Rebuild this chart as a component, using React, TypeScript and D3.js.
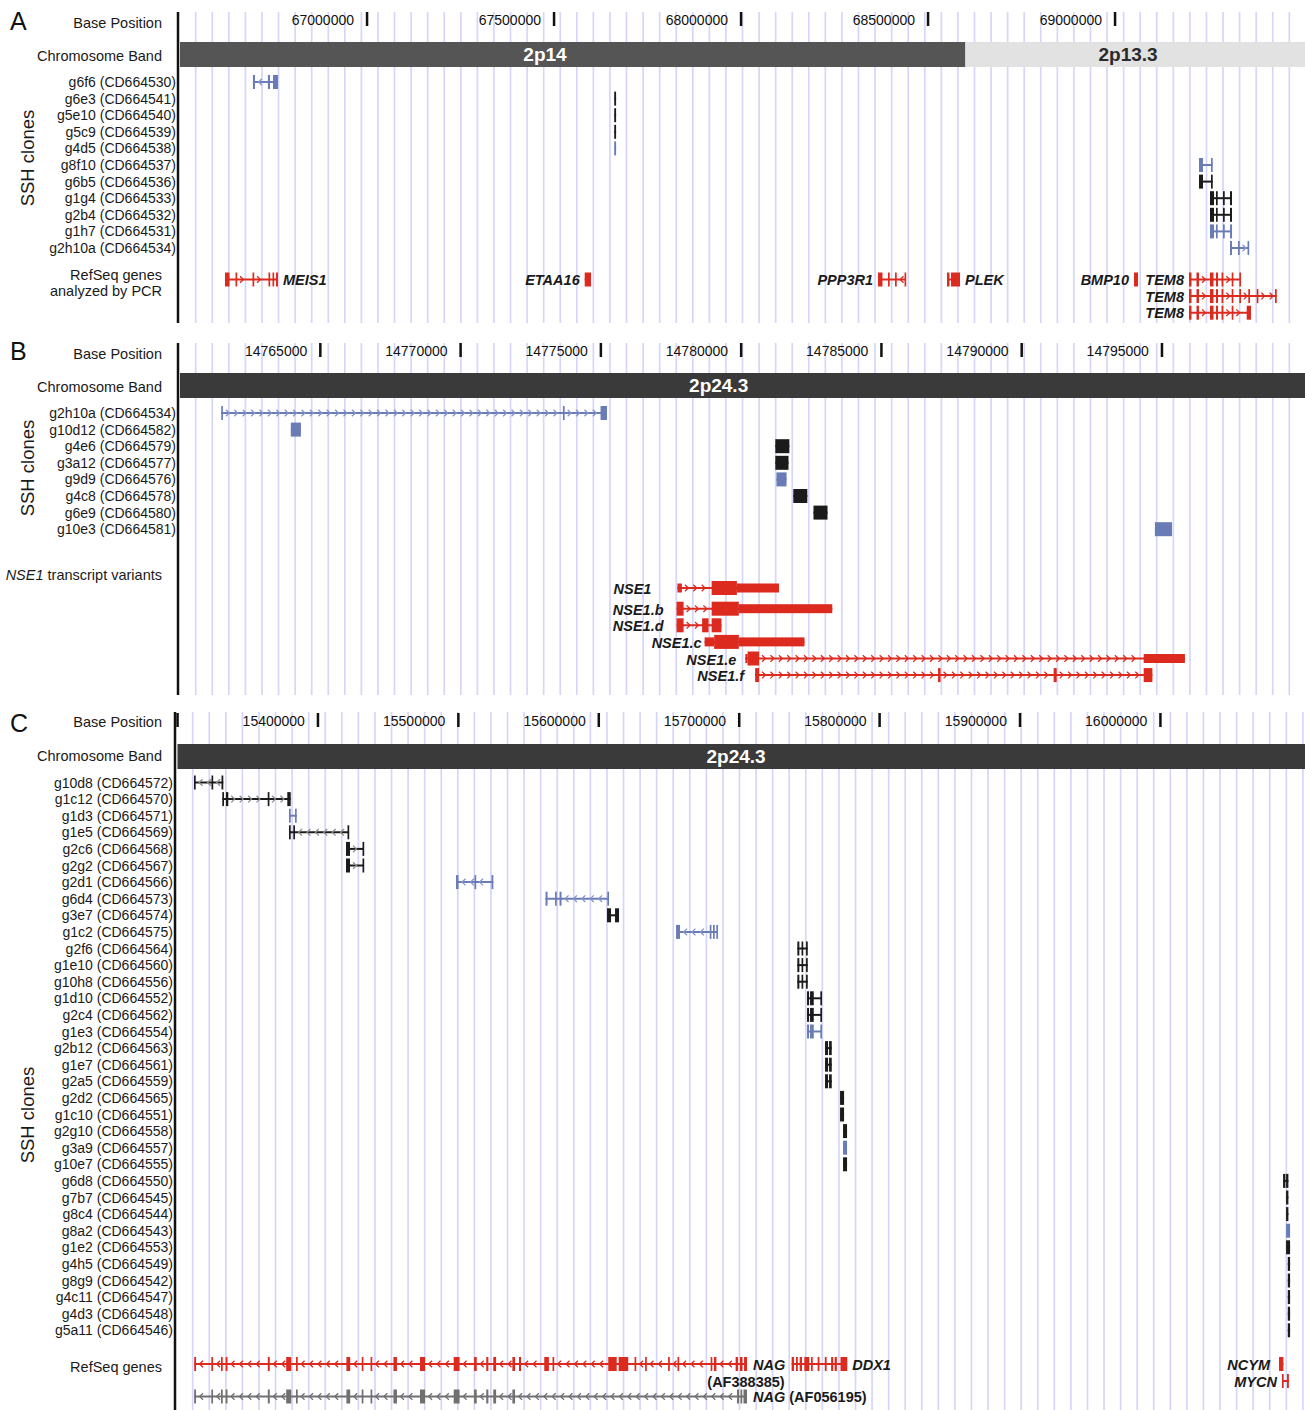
import React from "react";
import * as d3 from "d3";

type Iv = [number, number];

// ================= Panel A =================
const A_TICKS = [67000000, 67500000, 68000000, 68500000, 69000000];
const A_BAND_NAMES = ["2p14", "2p13.3"];
const A_BAND_STARTS = [66500000, 68600000];
const A_BAND_ENDS = [68600000, 69508000];
const A_BAND_LABEL_AT = [67476000, 69035000];
const A_CLONE_NAMES = ["g6f6", "g6e3", "g5e10", "g5c9", "g4d5", "g8f10", "g6b5", "g1g4", "g2b4", "g1h7", "g2h10a"];
const A_CLONE_ACC = ["CD664530", "CD664541", "CD664540", "CD664539", "CD664538", "CD664537", "CD664536", "CD664533", "CD664532", "CD664531", "CD664534"];
const A_CLONE_TYPE = ["b", "k", "k", "k", "b", "b", "k", "k", "k", "b", "b"];
const A_CLONE_STRAND = ["-", "", "", "", "", "", "", "+", "+", "+", "+"];
const A_TEM_CLONE: Iv[] = [[69254000, 69264700], [69270000, 69274000], [69288800, 69292800], [69307500, 69312800]];
const A_TINY: Iv[] = [[67661000, 67666000]];
const A_F10: Iv[] = [[69224600, 69235300], [69256700, 69260700]];
const A_CLONE_EXONS: Iv[][] = [
  [[66695000, 66700500], [66735000, 66740600], [66748700, 66762000]],
  A_TINY, A_TINY, A_TINY, A_TINY,
  A_F10, A_F10,
  A_TEM_CLONE, A_TEM_CLONE, A_TEM_CLONE,
  [[69307500, 69312800], [69328900, 69332900], [69354300, 69358300]],
];
const A_GENE_NAMES = ["MEIS1", "ETAA16", "PPP3R1", "PLEK", "BMP10", "TEM8", "TEM8", "TEM8"];
const A_GENE_ROW = [0, 0, 0, 0, 0, 0, 1, 2];
const A_GENE_STRAND = ["+", "", "-", "+", "", "+", "+", "+"];
const A_GENE_LABEL_SIDE = ["right", "left", "left", "right", "left", "left", "left", "left"];
const TEM8_CORE: Iv[] = [[69197900, 69204500], [69217900, 69224600], [69254000, 69263400], [69270100, 69275400], [69284800, 69289600], [69312000, 69316300]];
const A_GENE_EXONS: Iv[][] = [
  [[66620300, 66632400], [66648400, 66652400], [66693900, 66697900], [66736600, 66740600], [66747300, 66751300], [66756700, 66762000]],
  [[67582100, 67598900]],
  [[68366300, 68378300], [68393000, 68397100], [68411800, 68415800], [68437200, 68441200]],
  [[68550800, 68557500], [68561500, 68585600]],
  [[69050800, 69061500]],
  [...TEM8_CORE, [69332400, 69336100]],
  [...TEM8_CORE, [69332400, 69336100], [69356400, 69361000], [69378900, 69383200], [69427800, 69432400]],
  [...TEM8_CORE, [69352100, 69363600]],
];

// ================= Panel B =================
const B_TICKS = [14765000, 14770000, 14775000, 14780000, 14785000, 14790000, 14795000];
const B_BAND_NAMES = ["2p24.3"];
const B_BAND_STARTS = [14760000];
const B_BAND_ENDS = [14800100];
const B_BAND_LABEL_AT = [14779200];
const B_CLONE_NAMES = ["g2h10a", "g10d12", "g4e6", "g3a12", "g9d9", "g4c8", "g6e9", "g10e3"];
const B_CLONE_ACC = ["CD664534", "CD664582", "CD664579", "CD664577", "CD664576", "CD664578", "CD664580", "CD664581"];
const B_CLONE_TYPE = ["b", "b", "k", "k", "b", "k", "k", "b"];
const B_CLONE_STRAND = ["+", "", "", "", "", "", "", ""];
const B_CLONE_EXONS: Iv[][] = [
  [[14761470, 14761530], [14773650, 14773710], [14774990, 14775220]],
  [[14763950, 14764310]],
  [[14781220, 14781720]],
  [[14781220, 14781690]],
  [[14781260, 14781620]],
  [[14781860, 14782360]],
  [[14782580, 14783080]],
  [[14794750, 14795360]],
];
const B_GENE_NAMES = ["NSE1", "NSE1.b", "NSE1.d", "NSE1.c", "NSE1.e", "NSE1.f"];
const B_GENE_THICK: Iv[][] = [
  [[14778950, 14779850]],
  [[14777700, 14777950], [14778950, 14779920]],
  [[14777700, 14777950], [14778610, 14778840], [14778950, 14779300]],
  [[14779040, 14779920]],
  [[14780230, 14780640]],
  [[14780500, 14780640], [14787020, 14787110], [14791140, 14791250], [14794350, 14794660]],
];
const B_GENE_THIN: Iv[][] = [
  [[14777730, 14777890], [14779850, 14781350]],
  [[14779920, 14783250]],
  [],
  [[14778700, 14779040], [14779920, 14782260]],
  [[14780150, 14780230], [14794350, 14795820]],
  [],
];

// ================= Panel C =================
const C_TICKS = [15300000, 15400000, 15500000, 15600000, 15700000, 15800000, 15900000, 16000000];
const C_TICK_LABELS = ["", "15400000", "15500000", "15600000", "15700000", "15800000", "15900000", "16000000"];
const C_BAND_NAMES = ["2p24.3"];
const C_BAND_STARTS = [15300000];
const C_BAND_ENDS = [16103000];
const C_BAND_LABEL_AT = [15697800];
const C_CLONE_NAMES = ["g10d8", "g1c12", "g1d3", "g1e5", "g2c6", "g2g2", "g2d1", "g6d4", "g3e7", "g1c2", "g2f6", "g1e10", "g10h8", "g1d10", "g2c4", "g1e3", "g2b12", "g1e7", "g2a5", "g2d2", "g1c10", "g2g10", "g3a9", "g10e7", "g6d8", "g7b7", "g8c4", "g8a2", "g1e2", "g4h5", "g8g9", "g4c11", "g4d3", "g5a11"];
const C_CLONE_ACC = ["CD664572", "CD664570", "CD664571", "CD664569", "CD664568", "CD664567", "CD664566", "CD664573", "CD664574", "CD664575", "CD664564", "CD664560", "CD664556", "CD664552", "CD664562", "CD664554", "CD664563", "CD664561", "CD664559", "CD664565", "CD664551", "CD664558", "CD664557", "CD664555", "CD664550", "CD664545", "CD664544", "CD664543", "CD664553", "CD664549", "CD664542", "CD664547", "CD664548", "CD664546"];
const C_CLONE_TYPE = ["k", "k", "b", "k", "k", "k", "b", "b", "k", "b", "k", "k", "k", "k", "k", "b", "k", "k", "k", "k", "k", "k", "b", "k", "k", "k", "k", "b", "k", "k", "k", "k", "k", "k"];
const C_CLONE_STRAND = ["-", "+", "+", "-", "+", "+", "-", "-", "", "-", "-", "-", "-", "+", "-", "-", "", "", "", "", "", "", "", "", "", "", "", "", "", "", "", "", "", ""];
const C_G2F6: Iv[] = [[15741450, 15742880], [15744440, 15745510], [15747650, 15748860]];
const C_G1D10: Iv[] = [[15748360, 15749790], [15750500, 15753130], [15757830, 15758830]];
const C_G2B12: Iv[] = [[15761180, 15763320], [15764030, 15765950]];
const C_G2D2: Iv[] = [[15771870, 15774720]];
const C_G2G10: Iv[] = [[15774000, 15776850]];
const C_G7B7: Iv[] = [[16089530, 16091170]];
const C_G8A2: Iv[] = [[16089530, 16092380]];
const C_G4H5: Iv[] = [[16090740, 16092380]];
const C_G2C6: Iv[] = [[15420010, 15422860], [15431770, 15432840]];
const C_CLONE_EXONS: Iv[][] = [
  [[15311750, 15312820], [15324220, 15325290], [15331340, 15332620]],
  [[15331910, 15333120], [15334540, 15336180], [15364250, 15365170], [15378200, 15380630]],
  [[15379420, 15380480], [15383690, 15384900]],
  [[15379420, 15380480], [15382480, 15383690], [15421080, 15422150]],
  C_G2C6, C_G2C6,
  [[15498360, 15500140], [15511540, 15512610], [15523650, 15524930]],
  [[15562110, 15563530], [15568870, 15570090], [15572080, 15573500], [15606130, 15607120]],
  [[15605910, 15608760], [15611610, 15614460]],
  [[15655060, 15657910], [15679060, 15679990], [15681410, 15682620], [15683760, 15684760]],
  C_G2F6, C_G2F6, C_G2F6,
  C_G1D10, C_G1D10, C_G1D10,
  C_G2B12, C_G2B12, C_G2B12,
  C_G2D2, C_G2D2,
  C_G2G10, C_G2G10, C_G2G10,
  [[16087390, 16089030], [16089530, 16091170]],
  C_G7B7, C_G7B7,
  C_G8A2, C_G8A2,
  C_G4H5, C_G4H5, C_G4H5, C_G4H5, C_G4H5,
];
const NAG_SHARED: Iv[] = [
  [15311900, 15313200], [15324100, 15325300], [15331000, 15332100], [15334300, 15335600], [15364300, 15365700],
  [15377400, 15381000], [15384400, 15385500], [15420300, 15423000], [15431200, 15432300], [15437500, 15438500],
  [15453800, 15456300], [15472700, 15476300], [15496700, 15500900], [15511200, 15513100], [15519900, 15521400],
  [15524900, 15526900], [15538500, 15540400],
];
const C_NAG_RED: Iv[] = [
  ...NAG_SHARED,
  [15543200, 15544700], [15561200, 15564500], [15567100, 15568200], [15606800, 15612800], [15614200, 15621000],
  [15625500, 15626600], [15633000, 15634000], [15649400, 15650400], [15656100, 15657200], [15679700, 15680700],
  [15682100, 15683800], [15697500, 15699200], [15700600, 15702400], [15703500, 15705600],
];
const C_NAG_GRAY: Iv[] = [...NAG_SHARED, [15698500, 15699900], [15701000, 15702100], [15703100, 15705600]];
const C_DDX1: Iv[] = [
  [15737400, 15739100], [15740500, 15741800], [15743100, 15744800], [15746400, 15750000], [15751200, 15752100],
  [15755900, 15757200], [15761000, 15762300], [15765500, 15767000], [15768000, 15769600], [15772200, 15777000],
];
const C_NCYM: Iv[] = [[16084500, 16087600]];
const C_MYCN: Iv[] = [[16086600, 16087600], [16090200, 16091500]];

// ================= Styling / layout =================
const FONT = "'Liberation Sans', Arial, Helvetica, sans-serif";
const BLUE = "#6a7cb6";
const BLACK = "#1b1b1b";
const RED = "#dc2a1f";
const GRAY = "#707070";
const GRID = "#d6d6fb";
const colorOf = (t: string) => (t === "b" ? BLUE : t === "r" ? RED : t === "g" ? GRAY : BLACK);
const chevOf = (t: string) => (t === "b" ? "#8595c9" : t === "r" ? RED : t === "g" ? GRAY : "#8c8c8c");

const W = 1305;
const H = 1410;
const ROW = 16.6;

function Feature({ xs, y, thick, thin = [], strand, type, h = 14, th = 9, lw = 2 }: any) {
  const col = colorOf(type);
  const chev = chevOf(type);
  const all = [...thick, ...thin]
    .map(([a, b]: Iv) => [xs(a), xs(b)])
    .sort((p: number[], q: number[]) => p[0] - q[0]);
  const x0 = all[0][0];
  const x1 = d3.max(all, (d: number[]) => d[1]) as number;
  const chevs: number[] = [];
  if (strand) {
    let cur = all[0][1];
    for (let i = 1; i < all.length; i++) {
      const gs = cur;
      const ge = all[i][0];
      for (let p = gs + 5; p < ge - 2.5; p += 8.4) chevs.push(p);
      cur = Math.max(cur, all[i][1]);
    }
  }
  const rect = (iv: Iv, hh: number, k: string) => {
    const a = xs(iv[0]);
    const b = xs(iv[1]);
    const w = Math.max(1.7, b - a);
    return <rect key={k} x={a} y={y - hh / 2} width={w} height={hh} fill={col} />;
  };
  return (
    <g>
      {x1 - x0 > 1 && <line x1={x0} x2={x1} y1={y} y2={y} stroke={col} strokeWidth={lw} />}
      {chevs.map((p, i) => (
        <path
          key={"c" + i}
          d={strand === "+" ? `M${p - 2},${y - 3.3}L${p + 1.4},${y}L${p - 2},${y + 3.3}` : `M${p + 2},${y - 3.3}L${p - 1.4},${y}L${p + 2},${y + 3.3}`}
          fill="none"
          stroke={chev}
          strokeWidth={1.3}
        />
      ))}
      {thin.map((iv: Iv, i: number) => rect(iv, th, "t" + i))}
      {thick.map((iv: Iv, i: number) => rect(iv, h, "k" + i))}
    </g>
  );
}

function Frame({ xs, axisX, top, bottom, tickTop, ticks, tickLabels, bandY, bandNames, bandStarts, bandEnds, bandLabelAt, bandFill, bandText, letter, lineX }: any) {
  const grid: number[] = [];
  for (let g = axisX + 15.7; g < W; g += 16.57) grid.push(g);
  const [r0, r1] = xs.range();
  return (
    <g>
      {grid.map((g, i) => (
        <line key={i} x1={g} x2={g} y1={top} y2={bottom} stroke={GRID} strokeWidth={1.7} />
      ))}
      <rect x={lineX - 1.25} y={top} width={2.5} height={bottom - top} fill="#111" />
      {ticks.map((t: number, i: number) => (
        <g key={"t" + i}>
          <rect x={xs(t) - 1.2} y={tickTop} width={2.5} height={14} fill="#111" />
          <text x={xs(t) - 13} y={tickTop + 13} textAnchor="end" fontSize={14} fontFamily={FONT} fill="#111">
            {tickLabels ? tickLabels[i] : String(t)}
          </text>
        </g>
      ))}
      {bandNames.map((n: string, i: number) => {
        const a = Math.max(r0, xs(bandStarts[i]));
        const b = Math.min(r1, xs(bandEnds[i]));
        return (
          <g key={"b" + i}>
            <rect x={a} y={bandY} width={b - a} height={25} fill={bandFill[i]} />
            <text x={xs(bandLabelAt[i])} y={bandY + 19} textAnchor="middle" fontSize={19} fontWeight="bold" fontFamily={FONT} fill={bandText[i]}>
              {n}
            </text>
          </g>
        );
      })}
      <text x={10} y={letter.y} fontSize={25} fontFamily={FONT} fill="#111">
        {letter.t}
      </text>
    </g>
  );
}

function LeftLabel({ y, children, x = 162, size = 14.5, anchor = "end" }: any) {
  return (
    <text x={x} y={y} textAnchor={anchor} fontSize={size} fontFamily={FONT} fill="#1a1a1a">
      {children}
    </text>
  );
}

function SSH({ cy }: any) {
  return (
    <text transform={`translate(34,${cy}) rotate(-90)`} textAnchor="middle" fontSize={18.5} fontFamily={FONT} fill="#1a1a1a">
      SSH clones
    </text>
  );
}

function GeneLabel({ x, y, anchor, children }: any) {
  return (
    <text x={x} y={y} textAnchor={anchor} fontSize={14.5} fontWeight="bold" fontStyle="italic" fontFamily={FONT} fill="#1a1a1a">
      {children}
    </text>
  );
}

export default function App() {
  // ---- scales ----
  const xA = d3.scaleLinear().domain([66500000, 69508000]).range([180, W]);
  const xB = d3.scaleLinear().domain([14760000, 14800100]).range([180, W]);
  const xC = d3.scaleLinear().domain([15300000, 16103000]).range([177.5, W]);

  const aRow0 = 82;
  const aGeneRow0 = 279.5;
  const bRow0 = 413;
  const bGeneY = (i: number) => (i === 0 ? 588 : 608.7 + ROW * (i - 1));
  const NSE_LABEL_GAP = [26, 13, 13, 3, 9, 11];
  const cRow0 = 782.5;

  return (
    <div style={{ position: "absolute", left: 0, top: 0 }}>
      <svg width={W} height={H} viewBox={`0 0 ${W} ${H}`} style={{ display: "block", background: "#fff" }}>
        <rect x={0} y={0} width={W} height={H} fill="#fff" />

        {/* ===== Panel A ===== */}
        <Frame
          xs={xA}
          axisX={180}
          top={12}
          bottom={323}
          tickTop={12}
          ticks={A_TICKS}
          bandY={42}
          bandNames={A_BAND_NAMES}
          bandStarts={A_BAND_STARTS}
          bandEnds={A_BAND_ENDS}
          bandLabelAt={A_BAND_LABEL_AT}
          bandFill={["#555555", "#e2e2e2"]}
          bandText={["#ffffff", "#2a2a2a"]}
          letter={{ t: "A", y: 30 }}
          lineX={178}
        />
        <LeftLabel y={28}>Base Position</LeftLabel>
        <LeftLabel y={61}>Chromosome Band</LeftLabel>
        <SSH cy={158} />
        {A_CLONE_NAMES.map((n, i) => (
          <LeftLabel key={n} x={176} y={aRow0 + i * ROW + 5} size={14}>
            {`${n} (${A_CLONE_ACC[i]})`}
          </LeftLabel>
        ))}
        {A_CLONE_EXONS.map((ex, i) => (
          <Feature key={"ac" + i} xs={xA} y={aRow0 + i * ROW} thick={ex} strand={A_CLONE_STRAND[i]} type={A_CLONE_TYPE[i]} />
        ))}
        <LeftLabel y={280}>RefSeq genes</LeftLabel>
        <LeftLabel y={296}>analyzed by PCR</LeftLabel>
        {A_GENE_EXONS.map((ex, i) => {
          const y = aGeneRow0 + A_GENE_ROW[i] * ROW;
          const s = d3.min(ex, (d) => d[0]) as number;
          const e = d3.max(ex, (d) => d[1]) as number;
          const right = A_GENE_LABEL_SIDE[i] === "right";
          return (
            <g key={"ag" + i}>
              <Feature xs={xA} y={y} thick={ex} strand={A_GENE_STRAND[i]} type="r" />
              <GeneLabel x={right ? xA(e) + 5 : xA(s) - 5} y={y + 5.5} anchor={right ? "start" : "end"}>
                {A_GENE_NAMES[i]}
              </GeneLabel>
            </g>
          );
        })}

        {/* ===== Panel B ===== */}
        <Frame
          xs={xB}
          axisX={180}
          top={343}
          bottom={695}
          tickTop={343}
          ticks={B_TICKS}
          bandY={373}
          bandNames={B_BAND_NAMES}
          bandStarts={B_BAND_STARTS}
          bandEnds={B_BAND_ENDS}
          bandLabelAt={B_BAND_LABEL_AT}
          bandFill={["#3a3a3a"]}
          bandText={["#ffffff"]}
          letter={{ t: "B", y: 360 }}
          lineX={178}
        />
        <LeftLabel y={359}>Base Position</LeftLabel>
        <LeftLabel y={392}>Chromosome Band</LeftLabel>
        <SSH cy={468} />
        {B_CLONE_NAMES.map((n, i) => (
          <LeftLabel key={n} x={176} y={bRow0 + i * ROW + 5} size={14}>
            {`${n} (${B_CLONE_ACC[i]})`}
          </LeftLabel>
        ))}
        {B_CLONE_EXONS.map((ex, i) => (
          <Feature key={"bc" + i} xs={xB} y={bRow0 + i * ROW} thick={ex} strand={B_CLONE_STRAND[i]} type={B_CLONE_TYPE[i]} />
        ))}
        <text x={162} y={580} textAnchor="end" fontSize={14.5} fontFamily={FONT} fill="#1a1a1a">
          <tspan fontStyle="italic">NSE1</tspan> transcript variants
        </text>
        {B_GENE_NAMES.map((n, i) => {
          const y = bGeneY(i);
          const all = [...B_GENE_THICK[i], ...B_GENE_THIN[i]];
          const s = d3.min(all, (d) => d[0]) as number;
          return (
            <g key={"bg" + i}>
              <Feature xs={xB} y={y} thick={B_GENE_THICK[i]} thin={B_GENE_THIN[i]} strand="+" type="r" />
              <GeneLabel x={xB(s) - NSE_LABEL_GAP[i]} y={y + 6} anchor="end">
                {n}
              </GeneLabel>
            </g>
          );
        })}

        {/* ===== Panel C ===== */}
        <Frame
          xs={xC}
          axisX={177}
          top={712}
          bottom={H}
          tickTop={713}
          ticks={C_TICKS}
          tickLabels={C_TICK_LABELS}
          bandY={744}
          bandNames={C_BAND_NAMES}
          bandStarts={C_BAND_STARTS}
          bandEnds={C_BAND_ENDS}
          bandLabelAt={C_BAND_LABEL_AT}
          bandFill={["#3a3a3a"]}
          bandText={["#ffffff"]}
          letter={{ t: "C", y: 732 }}
          lineX={175}
        />
        <LeftLabel y={727}>Base Position</LeftLabel>
        <LeftLabel y={761}>Chromosome Band</LeftLabel>
        <SSH cy={1115} />
        {C_CLONE_NAMES.map((n, i) => (
          <LeftLabel key={n} x={173} y={cRow0 + i * ROW + 5} size={14}>
            {`${n} (${C_CLONE_ACC[i]})`}
          </LeftLabel>
        ))}
        {C_CLONE_EXONS.map((ex, i) => (
          <Feature key={"cc" + i} xs={xC} y={cRow0 + i * ROW} thick={ex} strand={C_CLONE_STRAND[i]} type={C_CLONE_TYPE[i]} />
        ))}
        <LeftLabel y={1372}>RefSeq genes</LeftLabel>
        <Feature xs={xC} y={1364} thick={C_NAG_RED} strand="-" type="r" />
        <Feature xs={xC} y={1396.5} thick={C_NAG_GRAY} strand="-" type="g" />
        <Feature xs={xC} y={1364} thick={C_DDX1} strand="+" type="r" />
        <Feature xs={xC} y={1364} thick={C_NCYM} strand="" type="r" />
        <Feature xs={xC} y={1381} thick={C_MYCN} strand="+" type="r" />
        <GeneLabel x={xC(15705600) + 6} y={1370} anchor="start">NAG</GeneLabel>
        <text x={746} y={1387} textAnchor="middle" fontSize={14.5} fontWeight="bold" fontFamily={FONT} fill="#1a1a1a">
          (AF388385)
        </text>
        <text x={xC(15705600) + 6} y={1402} fontSize={14.5} fontWeight="bold" fontFamily={FONT} fill="#1a1a1a">
          <tspan fontStyle="italic">NAG</tspan> (AF056195)
        </text>
        <GeneLabel x={xC(15777000) + 5} y={1370} anchor="start">DDX1</GeneLabel>
        <GeneLabel x={xC(16084500) - 9} y={1370} anchor="end">NCYM</GeneLabel>
        <GeneLabel x={xC(16086600) - 5} y={1387} anchor="end">MYCN</GeneLabel>
      </svg>
    </div>
  );
}
